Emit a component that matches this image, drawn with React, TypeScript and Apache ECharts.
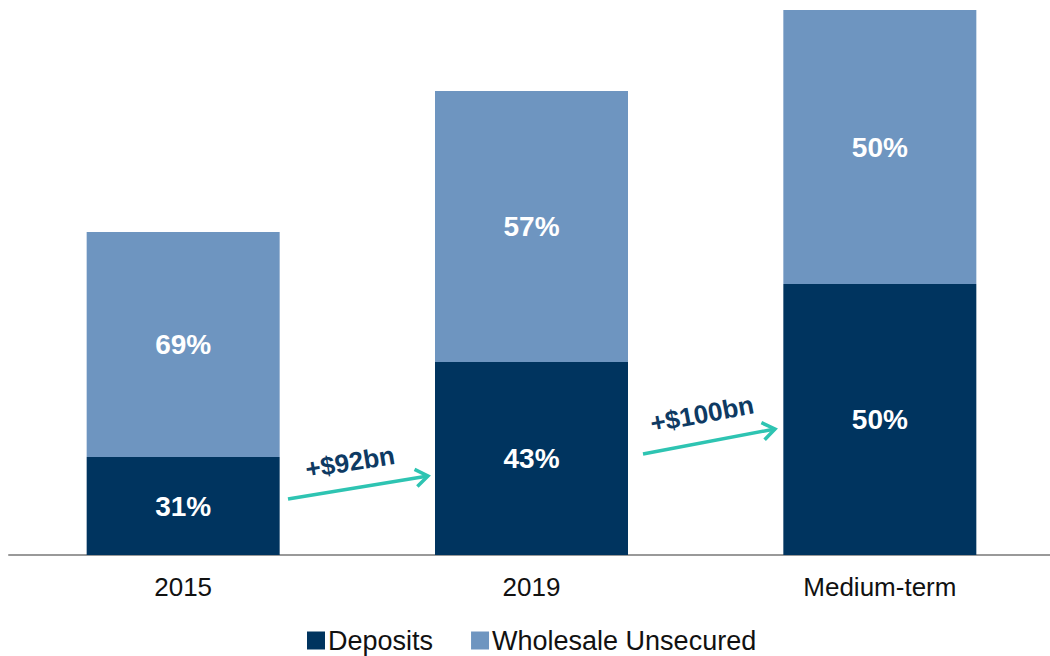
import React, { useEffect, useRef } from "react";
import * as echarts from "echarts";

const categories = ["2015", "2019", "Medium-term"];
const deposits = [98, 193, 271];
const wholesale = [225, 271, 274];
const depositLabels = ["31%", "43%", "50%"];
const wholesaleLabels = ["69%", "57%", "50%"];
const arrowLabels = ["+$92bn", "+$100bn"];

const NAVY = "#00345F";
const LIGHT = "#6E95C0";
const TEAL = "#2EC4B2";
const FONT = "'Liberation Sans', Arial, sans-serif";

function arrow(x1: number, y1: number, x2: number, y2: number, label: string, tx: number, ty: number) {
  const ang = Math.atan2(y2 - y1, x2 - x1);
  const len = 15;
  const spread = 0.62;
  const a1 = [x2 - len * Math.cos(ang - spread), y2 - len * Math.sin(ang - spread)];
  const a2 = [x2 - len * Math.cos(ang + spread), y2 - len * Math.sin(ang + spread)];
  return [
    {
      type: "line",
      shape: { x1, y1, x2, y2 },
      style: { stroke: TEAL, lineWidth: 3.5 },
    },
    {
      type: "polyline",
      shape: { points: [a1, [x2, y2], a2] },
      style: { stroke: TEAL, lineWidth: 3.5, fill: null },
    },
    {
      type: "text",
      x: tx,
      y: ty,
      rotation: -ang,
      style: {
        text: label,
        fill: "#0E3A63",
        font: `bold 26px ${FONT}`,
        textAlign: "center",
        textVerticalAlign: "middle",
      },
    },
  ];
}

export default function App() {
  const ref = useRef<HTMLDivElement>(null);
  useEffect(() => {
    if (!ref.current) return;
    const chart = echarts.init(ref.current, null, { renderer: "svg" });
    chart.setOption({
      animation: false,
      backgroundColor: "#ffffff",
      textStyle: { fontFamily: FONT },
      grid: { left: 9, right: 0, top: 10, bottom: 101, containLabel: false },
      legend: {
        bottom: 2,
        left: 307,
        padding: 0,
        itemWidth: 18,
        itemHeight: 18,
        itemGap: 38,
        icon: "rect",
        textStyle: { fontSize: 27, color: "#111", fontFamily: FONT, padding: [0, 0, 0, -2] },
        data: ["Deposits", "Wholesale Unsecured"],
      },
      xAxis: {
        type: "category",
        data: categories,
        axisLine: { show: true, lineStyle: { color: "#999", width: 2 } },
        axisTick: { show: false },
        axisLabel: { fontSize: 26, color: "#111", margin: 19, fontFamily: FONT },
      },
      yAxis: {
        type: "value",
        min: 0,
        max: 545,
        show: false,
        splitLine: { show: false },
      },
      series: [
        {
          name: "Deposits",
          type: "bar",
          stack: "total",
          barWidth: 193,
          data: deposits,
          itemStyle: { color: NAVY },
          label: {
            show: true,
            position: "inside",
            color: "#fff",
            fontWeight: "bold",
            fontSize: 28,
            fontFamily: FONT,
            formatter: (p: any) => depositLabels[p.dataIndex],
          },
        },
        {
          name: "Wholesale Unsecured",
          type: "bar",
          stack: "total",
          barWidth: 193,
          data: wholesale,
          itemStyle: { color: LIGHT },
          label: {
            show: true,
            position: "inside",
            color: "#fff",
            fontWeight: "bold",
            fontSize: 28,
            fontFamily: FONT,
            formatter: (p: any) => wholesaleLabels[p.dataIndex],
          },
        },
      ],
      graphic: [
        ...arrow(288, 499, 428, 476, arrowLabels[0], 350, 462),
        ...arrow(643, 454, 775, 429, arrowLabels[1], 702, 414),
      ],
    });
    return () => chart.dispose();
  }, []);
  return (
    <div
      ref={ref}
      style={{ position: "fixed", left: 0, top: 0, width: 1054, height: 656 }}
    />
  );
}
